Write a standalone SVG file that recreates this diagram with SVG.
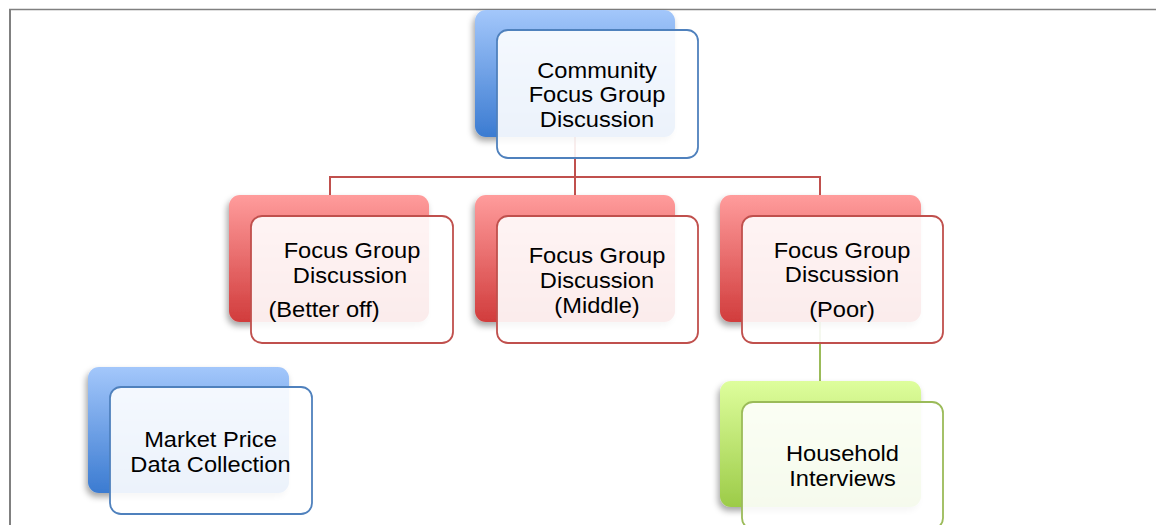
<svg xmlns="http://www.w3.org/2000/svg" width="1156" height="525" viewBox="0 0 1156 525">
<style>
text{font-family:"Liberation Sans",Arial,sans-serif;font-size:21.5px;fill:#000;text-anchor:middle}
.front{fill:#fff;fill-opacity:0.9;stroke-width:1.8}
.fb{stroke:#4f81bd}.fr{stroke:#c0504d}.fg{stroke:#9bbb59}
.conn{fill:none;stroke-width:2}
</style>
<defs>
<linearGradient id="gb" x1="0" y1="0" x2="0" y2="1"><stop offset="0" stop-color="#a3c7fb"/><stop offset="1" stop-color="#3b7bd1"/></linearGradient>
<linearGradient id="gr" x1="0" y1="0" x2="0" y2="1"><stop offset="0" stop-color="#ff9c9c"/><stop offset="1" stop-color="#d13c3c"/></linearGradient>
<linearGradient id="gg" x1="0" y1="0" x2="0" y2="1"><stop offset="0" stop-color="#defe9c"/><stop offset="1" stop-color="#9ccb48"/></linearGradient>
<filter id="sh" x="-20%" y="-20%" width="140%" height="150%"><feDropShadow dx="-2" dy="4" stdDeviation="3" flood-color="#000" flood-opacity="0.35"/></filter>
</defs>
<g id="frame" stroke="#808080" fill="none">
<line x1="9" y1="9.5" x2="1156" y2="9.5" stroke-width="1.3"/>
<line x1="10" y1="9" x2="10" y2="525" stroke-width="2"/>
</g>
<g id="connectors" class="conn">
<path d="M575 137V177M330 195V177H820V195M575 177V195" stroke="#c0504d" fill="none" stroke-width="2"/>
<path d="M820 322V381" stroke="#9bbb59" fill="none" stroke-width="2"/>
</g>
<g id="community">
<rect x="475" y="10" width="200" height="127" rx="11" fill="url(#gb)" filter="url(#sh)"/>
<rect x="497" y="30" width="201" height="128" rx="11" class="front fb"/>
<text transform="translate(597,77.5) scale(1.1,1)">Community</text>
<text transform="translate(597,102) scale(1.1,1)">Focus Group</text>
<text transform="translate(597,126.5) scale(1.1,1)">Discussion</text>
</g>
<g id="better-off">
<rect x="229" y="195" width="200" height="127" rx="11" fill="url(#gr)" filter="url(#sh)"/>
<rect x="251" y="216" width="202" height="127" rx="11" class="front fr"/>
<text transform="translate(352,258) scale(1.1,1)">Focus Group</text>
<text transform="translate(350,282.5) scale(1.1,1)">Discussion</text>
<text transform="translate(324,317) scale(1.1,1)">(Better off)</text>
</g>
<g id="middle">
<rect x="475" y="195" width="200" height="127" rx="11" fill="url(#gr)" filter="url(#sh)"/>
<rect x="497" y="216" width="201" height="127" rx="11" class="front fr"/>
<text transform="translate(597,262.5) scale(1.1,1)">Focus Group</text>
<text transform="translate(597,287.5) scale(1.1,1)">Discussion</text>
<text transform="translate(597,313) scale(1.1,1)">(Middle)</text>
</g>
<g id="poor">
<rect x="720" y="195" width="201" height="127" rx="11" fill="url(#gr)" filter="url(#sh)"/>
<rect x="742" y="216" width="201" height="127" rx="11" class="front fr"/>
<text transform="translate(842,257.5) scale(1.1,1)">Focus Group</text>
<text transform="translate(842,282) scale(1.1,1)">Discussion</text>
<text transform="translate(842,317) scale(1.1,1)">(Poor)</text>
</g>
<g id="household">
<rect x="720" y="381" width="201" height="126" rx="11" fill="url(#gg)" filter="url(#sh)"/>
<rect x="742" y="402" width="201" height="127" rx="11" class="front fg"/>
<text transform="translate(842.5,461) scale(1.1,1)">Household</text>
<text transform="translate(842.5,486) scale(1.1,1)">Interviews</text>
</g>
<g id="market-price">
<rect x="88" y="367" width="201" height="126" rx="11" fill="url(#gb)" filter="url(#sh)"/>
<rect x="110" y="387" width="202" height="127" rx="11" class="front fb"/>
<text transform="translate(210.5,447) scale(1.1,1)">Market Price</text>
<text transform="translate(210.5,471.5) scale(1.1,1)">Data Collection</text>
</g>
</svg>
